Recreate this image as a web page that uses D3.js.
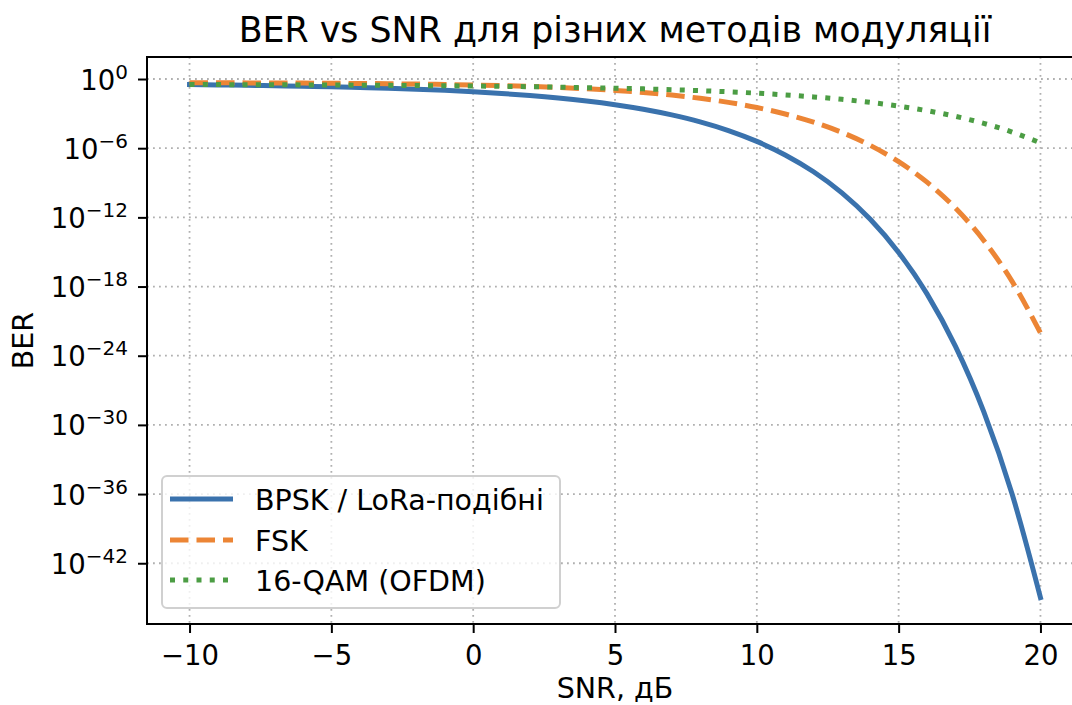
<!DOCTYPE html>
<html>
<head>
<meta charset="utf-8">
<script src="https://cdn.jsdelivr.net/npm/d3@7"></script>
<style>
  html, body { margin: 0; padding: 0; background: #fff; }
  svg { display: block; font-family: "DejaVu Sans", sans-serif; }
</style>
</head>
<body>
<svg id="chart" width="1072" height="705"></svg>
<script>
// ---- data ----
const snrDb = [-10,-9,-8,-7,-6,-5,-4,-3,-2,-1,0,1,2,3,4,5,6,7,8,9,10,11,12,13,14,15,16,17,18,19,20];
const berBpsk = [0.327,0.308,0.287,0.264,0.239,0.213,0.186,0.159,0.131,0.104,0.0786,0.0560,0.0375,0.0229,0.0125,5.95e-3,2.39e-3,7.7e-4,1.91e-4,3.36e-5,3.87e-6,2.6e-7,9.0e-9,1.34e-10,6.8e-13,9.1e-16,2.3e-19,6.7e-24,1.4e-29,1.0e-36,1.05e-45];
const berFsk = [0.475,0.470,0.462,0.453,0.441,0.427,0.410,0.389,0.365,0.337,0.303,0.267,0.226,0.1845,0.1426,0.1028,0.0683,0.0408,0.0213,9.42e-3,3.37e-3,9.23e-4,1.81e-4,2.33e-5,1.75e-6,6.79e-8,1.13e-9,6.53e-12,9.93e-15,2.82e-18,9.64e-23];
const berQam = [0.333,0.328,0.322,0.316,0.309,0.301,0.292,0.282,0.271,0.259,0.246,0.231,0.215,0.198,0.179,0.160,0.140,0.119,0.098,0.078,0.059,0.042,0.0282,0.0172,9.38e-3,4.5e-3,1.79e-3,5.81e-4,1.43e-4,2.51e-5,2.9e-6];
const seriesNames = ["BPSK / LoRa-подібні", "FSK", "16-QAM (OFDM)"];
const xTicks = [-10,-5,0,5,10,15,20];
const yTickExps = [0,-6,-12,-18,-24,-30,-36,-42];
const titleText = "BER vs SNR для різних методів модуляції";
const xLabel = "SNR, дБ";
const yLabel = "BER";

// ---- layout ----
const svg = d3.select("#chart");
const L = 147, R = 1083, T = 57, B = 624;
const x = d3.scaleLinear().domain([-11.5, 21.5]).range([L, R]);
const y = d3.scaleLog().domain([Math.pow(10, 1.91), Math.pow(10, -47.27)]).range([T, B]);

const colors = ["#3a72ad", "#ec8535", "#4c9d44"];
const dashes = [null, "18.5,8", "5,8.25"];
const caps = ["square", "butt", "butt"];
const series = [berBpsk, berFsk, berQam];

svg.append("defs").append("clipPath").attr("id", "clip")
  .append("rect").attr("x", L).attr("y", T).attr("width", R - L).attr("height", B - T);

// grid
const grid = svg.append("g");
xTicks.forEach(t => {
  grid.append("line").attr("x1", x(t)).attr("x2", x(t)).attr("y1", T).attr("y2", B)
    .attr("stroke", "#b0b0b0").attr("stroke-width", 1.8).attr("stroke-dasharray", "1.8,4.2");
});
yTickExps.forEach(e => {
  grid.append("line").attr("x1", L).attr("x2", R).attr("y1", y(Math.pow(10, e))).attr("y2", y(Math.pow(10, e)))
    .attr("stroke", "#b0b0b0").attr("stroke-width", 1.8).attr("stroke-dasharray", "1.8,4.2");
});

// lines
const lineGen = d3.line()
  .x((d, i) => x(snrDb[i]))
  .y(d => y(d))
  .curve(d3.curveMonotoneX);
const lines = svg.append("g").attr("clip-path", "url(#clip)");
series.forEach((s, k) => {
  const p = lines.append("path").attr("d", lineGen(s))
    .attr("fill", "none").attr("stroke", colors[k]).attr("stroke-width", 5)
    .attr("stroke-linecap", caps[k]).attr("stroke-linejoin", "round");
  if (dashes[k]) p.attr("stroke-dasharray", dashes[k]);
});

// axes
const xAxis = d3.axisBottom(x).tickValues(xTicks).tickSize(9).tickPadding(8)
  .tickFormat(d => (d < 0 ? "\u2212" + Math.abs(d) : String(d)));
const gx = svg.append("g").attr("transform", `translate(0,${B})`).call(xAxis);
gx.select(".domain").remove();
gx.selectAll(".tick line").attr("stroke", "#000").attr("stroke-width", 2);
gx.selectAll(".tick text").attr("font-size", 27.5).attr("fill", "#000")
  .attr("font-family", "DejaVu Sans").attr("dy", null).attr("y", 41);

const yAxis = d3.axisLeft(y).tickValues(yTickExps.map(e => Math.pow(10, e))).tickSize(9).tickFormat("");
const gy = svg.append("g").attr("transform", `translate(${L},0)`).call(yAxis);
gy.select(".domain").remove();
gy.selectAll(".tick line").attr("stroke", "#000").attr("stroke-width", 2);
gy.selectAll(".tick").each(function(d, i) {
  const e = yTickExps[i];
  const t = d3.select(this).append("text")
    .attr("x", -19).attr("y", 10).attr("text-anchor", "end").attr("fill", "#000")
    .attr("font-size", 27.5).attr("font-family", "DejaVu Sans");
  t.append("tspan").text("10");
  t.append("tspan").attr("dy", -11).attr("font-size", 20).text(e < 0 ? "\u2212" + Math.abs(e) : String(e));
});

// spines
svg.append("line").attr("x1", L).attr("x2", L).attr("y1", T).attr("y2", B).attr("stroke", "#000").attr("stroke-width", 2).attr("stroke-linecap", "square");
svg.append("line").attr("x1", L).attr("x2", R).attr("y1", B).attr("y2", B).attr("stroke", "#000").attr("stroke-width", 2).attr("stroke-linecap", "square");
svg.append("line").attr("x1", L).attr("x2", R).attr("y1", T).attr("y2", T).attr("stroke", "#000").attr("stroke-width", 2).attr("stroke-linecap", "square");
svg.append("line").attr("x1", R).attr("x2", R).attr("y1", T).attr("y2", B).attr("stroke", "#000").attr("stroke-width", 2);

// title & labels
svg.append("text").attr("x", (L + R) / 2).attr("y", 42).attr("text-anchor", "middle")
  .attr("font-size", 34.8).attr("fill", "#000").text(titleText);
svg.append("text").attr("x", (L + R) / 2).attr("y", 698).attr("text-anchor", "middle")
  .attr("font-size", 28.5).attr("fill", "#000").text(xLabel);
svg.append("text").attr("transform", `translate(33,${(T + B) / 2}) rotate(-90)`).attr("text-anchor", "middle")
  .attr("font-size", 28.5).attr("fill", "#000").text(yLabel);

// legend
const lg = svg.append("g");
lg.append("rect").attr("x", 162).attr("y", 476).attr("width", 398).attr("height", 132).attr("rx", 5)
  .attr("fill", "#fff").attr("fill-opacity", 0.8).attr("stroke", "#d0d0d0").attr("stroke-width", 2);
const rowY = [499, 540, 580];
seriesNames.forEach((name, k) => {
  const l = lg.append("line").attr("x1", 170).attr("x2", 233).attr("y1", rowY[k]).attr("y2", rowY[k])
    .attr("stroke", colors[k]).attr("stroke-width", 5).attr("stroke-linecap", "butt");
  if (dashes[k]) l.attr("stroke-dasharray", dashes[k]);
  lg.append("text").attr("x", 255).attr("y", rowY[k] + 10.5).attr("font-size", 28.5).attr("fill", "#000").text(name);
});
</script>
</body>
</html>
